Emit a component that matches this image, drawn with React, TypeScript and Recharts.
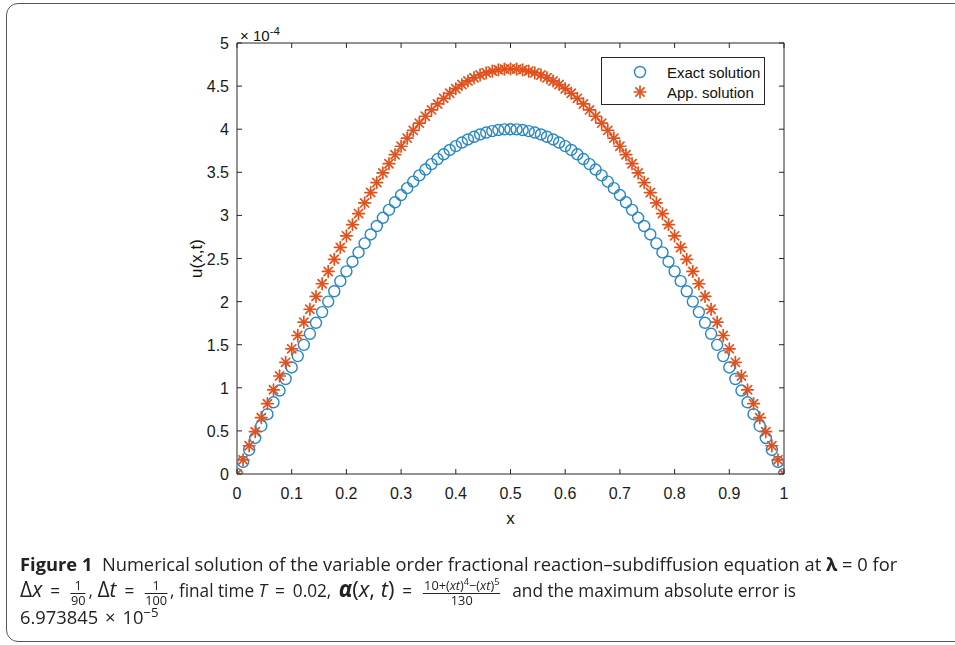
import { useLayoutEffect, useRef, useState } from "react";
import { Label, Legend, Scatter, ScatterChart, XAxis, YAxis } from "recharts";

// grid x_i = i/90, values in units of 1e-4
const xGrid = [
  0, 0.0111, 0.0222, 0.0333, 0.0444, 0.0556, 0.0667, 0.0778, 0.0889, 0.1,
  0.1111, 0.1222, 0.1333, 0.1444, 0.1556, 0.1667, 0.1778, 0.1889, 0.2, 0.2111,
  0.2222, 0.2333, 0.2444, 0.2556, 0.2667, 0.2778, 0.2889, 0.3, 0.3111, 0.3222,
  0.3333, 0.3444, 0.3556, 0.3667, 0.3778, 0.3889, 0.4, 0.4111, 0.4222, 0.4333,
  0.4444, 0.4556, 0.4667, 0.4778, 0.4889, 0.5, 0.5111, 0.5222, 0.5333, 0.5444,
  0.5556, 0.5667, 0.5778, 0.5889, 0.6, 0.6111, 0.6222, 0.6333, 0.6444, 0.6556,
  0.6667, 0.6778, 0.6889, 0.7, 0.7111, 0.7222, 0.7333, 0.7444, 0.7556, 0.7667,
  0.7778, 0.7889, 0.8, 0.8111, 0.8222, 0.8333, 0.8444, 0.8556, 0.8667, 0.8778,
  0.8889, 0.9, 0.9111, 0.9222, 0.9333, 0.9444, 0.9556, 0.9667, 0.9778, 0.9889,
  1,
];

const exactSolution = [
  0, 0.14, 0.279, 0.418, 0.557, 0.694, 0.832, 0.968, 1.102, 1.236,
  1.368, 1.498, 1.627, 1.754, 1.878, 2.0, 2.12, 2.237, 2.351, 2.463,
  2.571, 2.676, 2.779, 2.877, 2.972, 3.064, 3.152, 3.236, 3.316, 3.392,
  3.464, 3.532, 3.595, 3.654, 3.709, 3.759, 3.804, 3.845, 3.881, 3.912,
  3.939, 3.961, 3.978, 3.99, 3.998, 4.0, 3.998, 3.99, 3.978, 3.961,
  3.939, 3.912, 3.881, 3.845, 3.804, 3.759, 3.709, 3.654, 3.595, 3.532,
  3.464, 3.392, 3.316, 3.236, 3.152, 3.064, 2.972, 2.877, 2.779, 2.676,
  2.571, 2.463, 2.351, 2.237, 2.12, 2.0, 1.878, 1.754, 1.627, 1.498,
  1.368, 1.236, 1.102, 0.968, 0.832, 0.694, 0.557, 0.418, 0.279, 0.14,
  0,
];

const appSolution = [
  0, 0.164, 0.328, 0.491, 0.654, 0.816, 0.977, 1.137, 1.295, 1.452,
  1.607, 1.761, 1.911, 2.06, 2.207, 2.35, 2.491, 2.628, 2.763, 2.894,
  3.021, 3.145, 3.265, 3.381, 3.493, 3.6, 3.704, 3.802, 3.896, 3.986,
  4.07, 4.15, 4.224, 4.293, 4.358, 4.417, 4.47, 4.518, 4.56, 4.597,
  4.629, 4.654, 4.674, 4.689, 4.697, 4.7, 4.697, 4.689, 4.674, 4.654,
  4.629, 4.597, 4.56, 4.518, 4.47, 4.417, 4.358, 4.293, 4.224, 4.15,
  4.07, 3.986, 3.896, 3.802, 3.704, 3.6, 3.493, 3.381, 3.265, 3.145,
  3.021, 2.894, 2.763, 2.628, 2.491, 2.35, 2.207, 2.06, 1.911, 1.761,
  1.607, 1.452, 1.295, 1.137, 0.977, 0.816, 0.654, 0.491, 0.328, 0.164,
  0,
];

const xTicks = [0, 0.1, 0.2, 0.3, 0.4, 0.5, 0.6, 0.7, 0.8, 0.9, 1];
const yTicks = [0, 0.5, 1, 1.5, 2, 2.5, 3, 3.5, 4, 4.5, 5];
const seriesNames = ["Exact solution", "App. solution"];

const exactData = xGrid.map((x, i) => ({ x, u: exactSolution[i] }));
const appData = xGrid.map((x, i) => ({ x, u: appSolution[i] }));

const FONT = '"Liberation Sans", Arial, Helvetica, sans-serif';
const INK = "#262626";
const BLUE = "#2587c4";
const ORANGE = "#e2511c";

function CircleMark({ cx, cy }: any) {
  return <circle cx={cx} cy={cy} r={5.5} fill="none" stroke={BLUE} strokeWidth={1.4} />;
}

function StarMark({ cx, cy }: any) {
  const r = 5.8;
  const d = r * 0.707;
  return (
    <g stroke={ORANGE} strokeWidth={1.7} strokeLinecap="round">
      <line x1={cx - r} y1={cy} x2={cx + r} y2={cy} />
      <line x1={cx} y1={cy - r} x2={cx} y2={cy + r} />
      <line x1={cx - d} y1={cy - d} x2={cx + d} y2={cy + d} />
      <line x1={cx - d} y1={cy + d} x2={cx + d} y2={cy - d} />
    </g>
  );
}

function BottomTick({ x, y, payload }: any) {
  return (
    <g>
      <line x1={x} y1={y} x2={x} y2={y - 5} stroke={INK} />
      <text x={x} y={y + 25} textAnchor="middle" fontSize={16} fill="#1a1a1a" fontFamily={FONT}>
        {payload.value}
      </text>
    </g>
  );
}

function LeftTick({ x, y, payload }: any) {
  return (
    <g>
      <line x1={x} y1={y} x2={x + 5} y2={y} stroke={INK} />
      <text x={x - 8} y={y + 6} textAnchor="end" fontSize={16} fill="#1a1a1a" fontFamily={FONT}>
        {payload.value}
      </text>
    </g>
  );
}

function TopTick({ x, y }: any) {
  return <line x1={x} y1={y} x2={x} y2={y + 5} stroke={INK} />;
}

function RightTick({ x, y }: any) {
  return <line x1={x} y1={y} x2={x - 5} y2={y} stroke={INK} />;
}

function LegendBox({ payload }: any) {
  const items = seriesNames
    .map((name) => (payload || []).find((p: any) => p.value === name))
    .filter(Boolean);
  return (
    <div style={{ width: 164, height: 48, border: `1px solid ${INK}`, background: "#fff", fontFamily: FONT, fontSize: 15, color: "#111", paddingTop: 4, boxSizing: "border-box" }}>
      {items.map((item: any) => (
        <div key={item.value} style={{ display: "flex", alignItems: "center", height: 20 }}>
          <svg width={65} height={20}>
            {item.value === seriesNames[0] ? <CircleMark cx={38} cy={10} /> : <StarMark cx={38} cy={10} />}
          </svg>
          <span>{item.value}</span>
        </div>
      ))}
    </div>
  );
}

function Frac({ n, d, right = 3 }: { n: any; d: any; right?: number }) {
  return (
    <span style={{ display: "inline-flex", flexDirection: "column", alignItems: "center", verticalAlign: "7px", fontSize: "0.74em", lineHeight: 1.05, margin: `0 ${right}px 0 3px` }}>
      <span style={{ padding: "0 1px" }}>{n}</span>
      <span style={{ borderTop: "1px solid #222", width: "100%", textAlign: "center" }}>{d}</span>
    </span>
  );
}

const sup = { fontSize: "0.72em", verticalAlign: "0.55em", lineHeight: 0 } as const;
const math = { fontSize: "1.22em", lineHeight: 0 } as const;
const Eq = () => <span style={{ margin: "0 8px" }}>=</span>;

function Caption() {
  const ref = useRef<HTMLSpanElement>(null);
  const [scale, setScale] = useState(1);
  useLayoutEffect(() => {
    const measure = () => {
      if (ref.current) setScale(877 / ref.current.offsetWidth);
    };
    measure();
    (document as any).fonts?.ready?.then(measure);
  }, []);
  const line = (top: number) =>
    ({ position: "absolute", left: 0, top, height: 24, lineHeight: "24px", whiteSpace: "nowrap" }) as const;
  return (
    <div style={{ position: "absolute", left: 20, top: 0, transform: `scaleX(${scale})`, transformOrigin: "0 0", fontFamily: '"Open Sans", "Noto Sans", sans-serif', fontSize: 18.5, color: "#222" }}>
      <div style={line(552)}>
        <span ref={ref}>
          <b>Figure 1</b>&nbsp;&nbsp;Numerical solution of the variable order fractional reaction–subdiffusion equation at <b>λ</b> = 0 for
        </span>
      </div>
      <div style={{ ...line(578), fontSize: 17.4 }}>
        <span style={math}>Δ<i>x</i></span>
        <Eq />
        <Frac n="1" d="90" />,{" "}
        <span style={math}>Δ<i>t</i></span>
        <Eq />
        <Frac n="1" d="100" />, final time <i>T</i>
        <Eq />
        0.02,{" "}
        <span style={{ fontSize: "1.28em", lineHeight: 0, marginLeft: 3 }}>
          <b>
            <i>α</i>
          </b>
          (<i>x</i>, <i>t</i>)
        </span>
        <Eq />
        <Frac
          right={12}
          n={
            <>
              10+(<i>xt</i>)<span style={sup}>4</span>−(<i>xt</i>)<span style={sup}>5</span>
            </>
          }
          d="130"
        />
        and the maximum absolute error is
      </div>
      <div style={line(605)}>
        6.973845<span style={{ margin: "0 7px" }}>×</span>10<span style={sup}>−5</span>
      </div>
    </div>
  );
}

export default function App() {
  return (
    <div style={{ position: "absolute", left: 0, top: 0, width: 955, height: 645, overflow: "hidden", background: "#fff" }}>
      <div style={{ position: "absolute", left: 6, top: 3, width: 1000, height: 637, border: "1.5px solid #555", borderRadius: 12 }} />
      <div style={{ position: "absolute", left: 0, top: 0 }}>
        <ScatterChart width={955} height={545} margin={{ top: 42, right: 170, bottom: 11, left: 177 }}>
          <XAxis
            xAxisId="bottom"
            type="number"
            dataKey="x"
            domain={[0, 1]}
            allowDataOverflow
            ticks={xTicks}
            interval={0}
            tickSize={0}
            tickMargin={0}
            tickLine={false}
            tick={BottomTick}
            axisLine={{ stroke: INK }}
            height={60}
          >
            <Label
              content={({ viewBox }: any) => (
                <text x={viewBox.x + viewBox.width / 2} y={viewBox.y + 50} textAnchor="middle" fontSize={17} fill="#111" fontFamily={FONT}>
                  x
                </text>
              )}
            />
          </XAxis>
          <XAxis
            xAxisId="top"
            orientation="top"
            type="number"
            dataKey="x"
            domain={[0, 1]}
            allowDataOverflow
            ticks={xTicks}
            interval={0}
            tickSize={0}
            tickMargin={0}
            tickLine={false}
            tick={TopTick}
            axisLine={{ stroke: INK }}
            height={1}
          >
            <Label
              content={({ viewBox }: any) => (
                <text x={viewBox.x + 3} y={viewBox.y - 1} fontSize={15} fill="#111" fontFamily={FONT}>
                  × 10
                  <tspan dy={-6} fontSize={11.5}>
                    -4
                  </tspan>
                </text>
              )}
            />
          </XAxis>
          <YAxis
            yAxisId="left"
            type="number"
            dataKey="u"
            domain={[0, 5]}
            allowDataOverflow
            ticks={yTicks}
            interval={0}
            tickSize={0}
            tickMargin={0}
            tickLine={false}
            tick={LeftTick}
            axisLine={{ stroke: INK }}
            width={60}
          >
            <Label
              content={({ viewBox }: any) => {
                const cx = viewBox.x + 19;
                const cy = viewBox.y + viewBox.height / 2;
                return (
                  <text x={cx} y={cy} transform={`rotate(-90 ${cx} ${cy})`} textAnchor="middle" dominantBaseline="central" fontSize={17} fill="#111" fontFamily={FONT}>
                    u(x,t)
                  </text>
                );
              }}
            />
          </YAxis>
          <YAxis
            yAxisId="right"
            orientation="right"
            type="number"
            dataKey="u"
            domain={[0, 5]}
            allowDataOverflow
            ticks={yTicks}
            interval={0}
            tickSize={0}
            tickMargin={0}
            tickLine={false}
            tick={RightTick}
            axisLine={{ stroke: INK }}
            width={1}
          />
          <Scatter
            data={exactData}
            xAxisId="top"
            yAxisId="right"
            legendType="none"
            shape={() => <g />}
            isAnimationActive={false}
          />
          <Scatter
            name={seriesNames[0]}
            data={exactData}
            xAxisId="bottom"
            yAxisId="left"
            shape={CircleMark}
            fill={BLUE}
            isAnimationActive={false}
          />
          <Scatter
            name={seriesNames[1]}
            data={appData}
            xAxisId="bottom"
            yAxisId="left"
            shape={StarMark}
            fill={ORANGE}
            isAnimationActive={false}
          />
          <Legend
            layout="vertical"
            align="center"
            verticalAlign="middle"
            content={LegendBox}
            wrapperStyle={{ left: 601, top: 57, width: 166, height: 50 }}
          />
        </ScatterChart>
      </div>
      <Caption />
    </div>
  );
}
